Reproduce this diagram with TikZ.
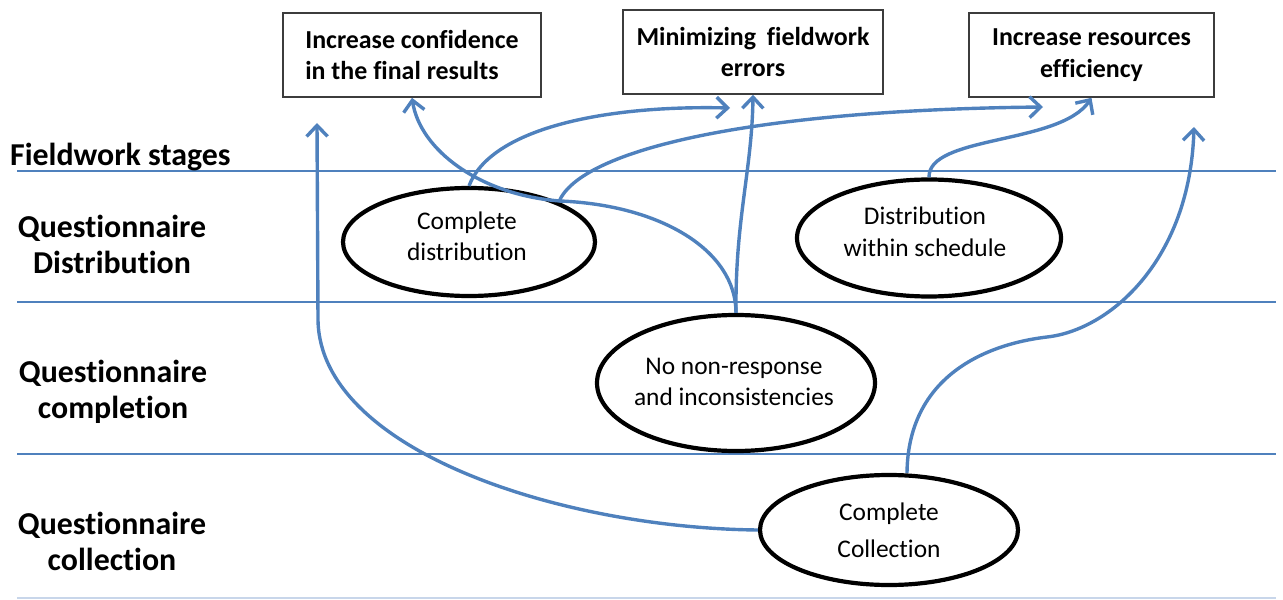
\documentclass[tikz,border=0pt]{standalone}
\usepackage{fontspec}
\setmainfont{Carlito}[Ligatures=NoCommon]
\usetikzlibrary{arrows.meta,shapes.geometric,calc}
\definecolor{conn}{RGB}{79,129,189}
\definecolor{boxline}{RGB}{60,60,60}
\definecolor{faint}{RGB}{200,214,234}
\begin{document}
\begin{tikzpicture}[x=1bp,y=-1bp,
  goal/.style={draw=boxline,line width=1.6bp,rectangle,inner sep=0pt,minimum height=84bp,
    font=\fontsize{26}{32}\selectfont\bfseries},
  oval/.style={draw=black,line width=4.2bp,ellipse,inner sep=0pt},
  otext/.style={align=center,inner sep=0pt},
  stage/.style={align=center,inner sep=0pt,font=\fontsize{32}{36}\selectfont\bfseries},
  divider/.style={draw=conn,line width=1.5bp},
  link/.style={draw=conn,line width=3.4bp,-{Straight Barb[length=11bp,width=21bp]}},
]
\useasboundingbox (0,0) rectangle (1283,600);

% stage dividers
\draw[divider] (17,171) -- (1276,171);
\draw[divider] (17,302) -- (1276,302);
\draw[divider] (17,454) -- (1276,454);
\draw[draw=faint,line width=1.5bp] (17,598) -- (1276,598);

% stage labels
\node[anchor=base west,inner sep=0pt,font=\fontsize{32}{36}\selectfont\bfseries] (fs) at (10,166) {Fieldwork stages};
\node[stage] (qd) at (112,244) {Questionnaire\\Distribution};
\node[stage] (qc) at (113,392) {Questionnaire\\completion};
\node[stage] (ql) at (112,541) {Questionnaire\\collection};

% goal boxes
\node[goal,minimum width=258bp,align=left] (box1) at (412,55) {Increase confidence\\in the final results};
\node[goal,minimum width=260bp,align=center] (box2) at (753,52) {Minimizing\hspace{5bp} fieldwork\\errors};
\node[goal,minimum width=245bp,align=center] (box3) at (1091.5,55) {Increase resources\\efficiency};

% ellipses
\node[oval,minimum width=252bp,minimum height=108bp] (cd) at (469,242) {};
\node[oval,minimum width=264bp,minimum height=117bp] (dws) at (929,238) {};
\node[oval,minimum width=278bp,minimum height=136bp] (nr) at (736,383) {};
\node[oval,minimum width=258bp,minimum height=110bp] (cc) at (889,530) {};

\node[otext,font=\fontsize{25.5}{31}\selectfont] (cdt) at (467,236.5) {Complete\\distribution};
\node[otext,font=\fontsize{25.5}{32}\selectfont] (dwst) at (925,232) {Distribution\\within schedule};
\node[otext,font=\fontsize{25.5}{32}\selectfont] (nrt) at (734,382) {No non-response\\and inconsistencies};
\node[otext,font=\fontsize{25.5}{37}\selectfont] (cct) at (889,530.5) {Complete\\Collection};

% free arrow ends
\coordinate (e1) at (317,123);
\coordinate (e5) at (730,108);
\coordinate (e6) at (1043,107);
\coordinate (e2) at (1194,127);

% connectors
\draw[link] (cc.west) .. controls (560,528) and (320,450) .. (318,320) -- (e1);
\draw[link] ([xshift=18bp]cc.north) .. controls (908,380) and (980,345) .. (1047,337)
   .. controls (1110,330) and (1190,260) .. (e2);
\draw[link] (nr.north) .. controls (735,220) and (752,170) .. (box2.south);
\draw[link] (nr.north) .. controls (736,250) and (660,205) .. (560,201)
   .. controls (480,195) and (420,150) .. (box1.south);
\draw[link] (cd.north) .. controls (490,130) and (600,105) .. (e5);
\draw[link] (cd.24) .. controls (580,150) and (750,110) .. (e6);
\draw[link] (dws.north) .. controls (928,135) and (1060,145) .. (box3.south);
\end{tikzpicture}
\end{document}
